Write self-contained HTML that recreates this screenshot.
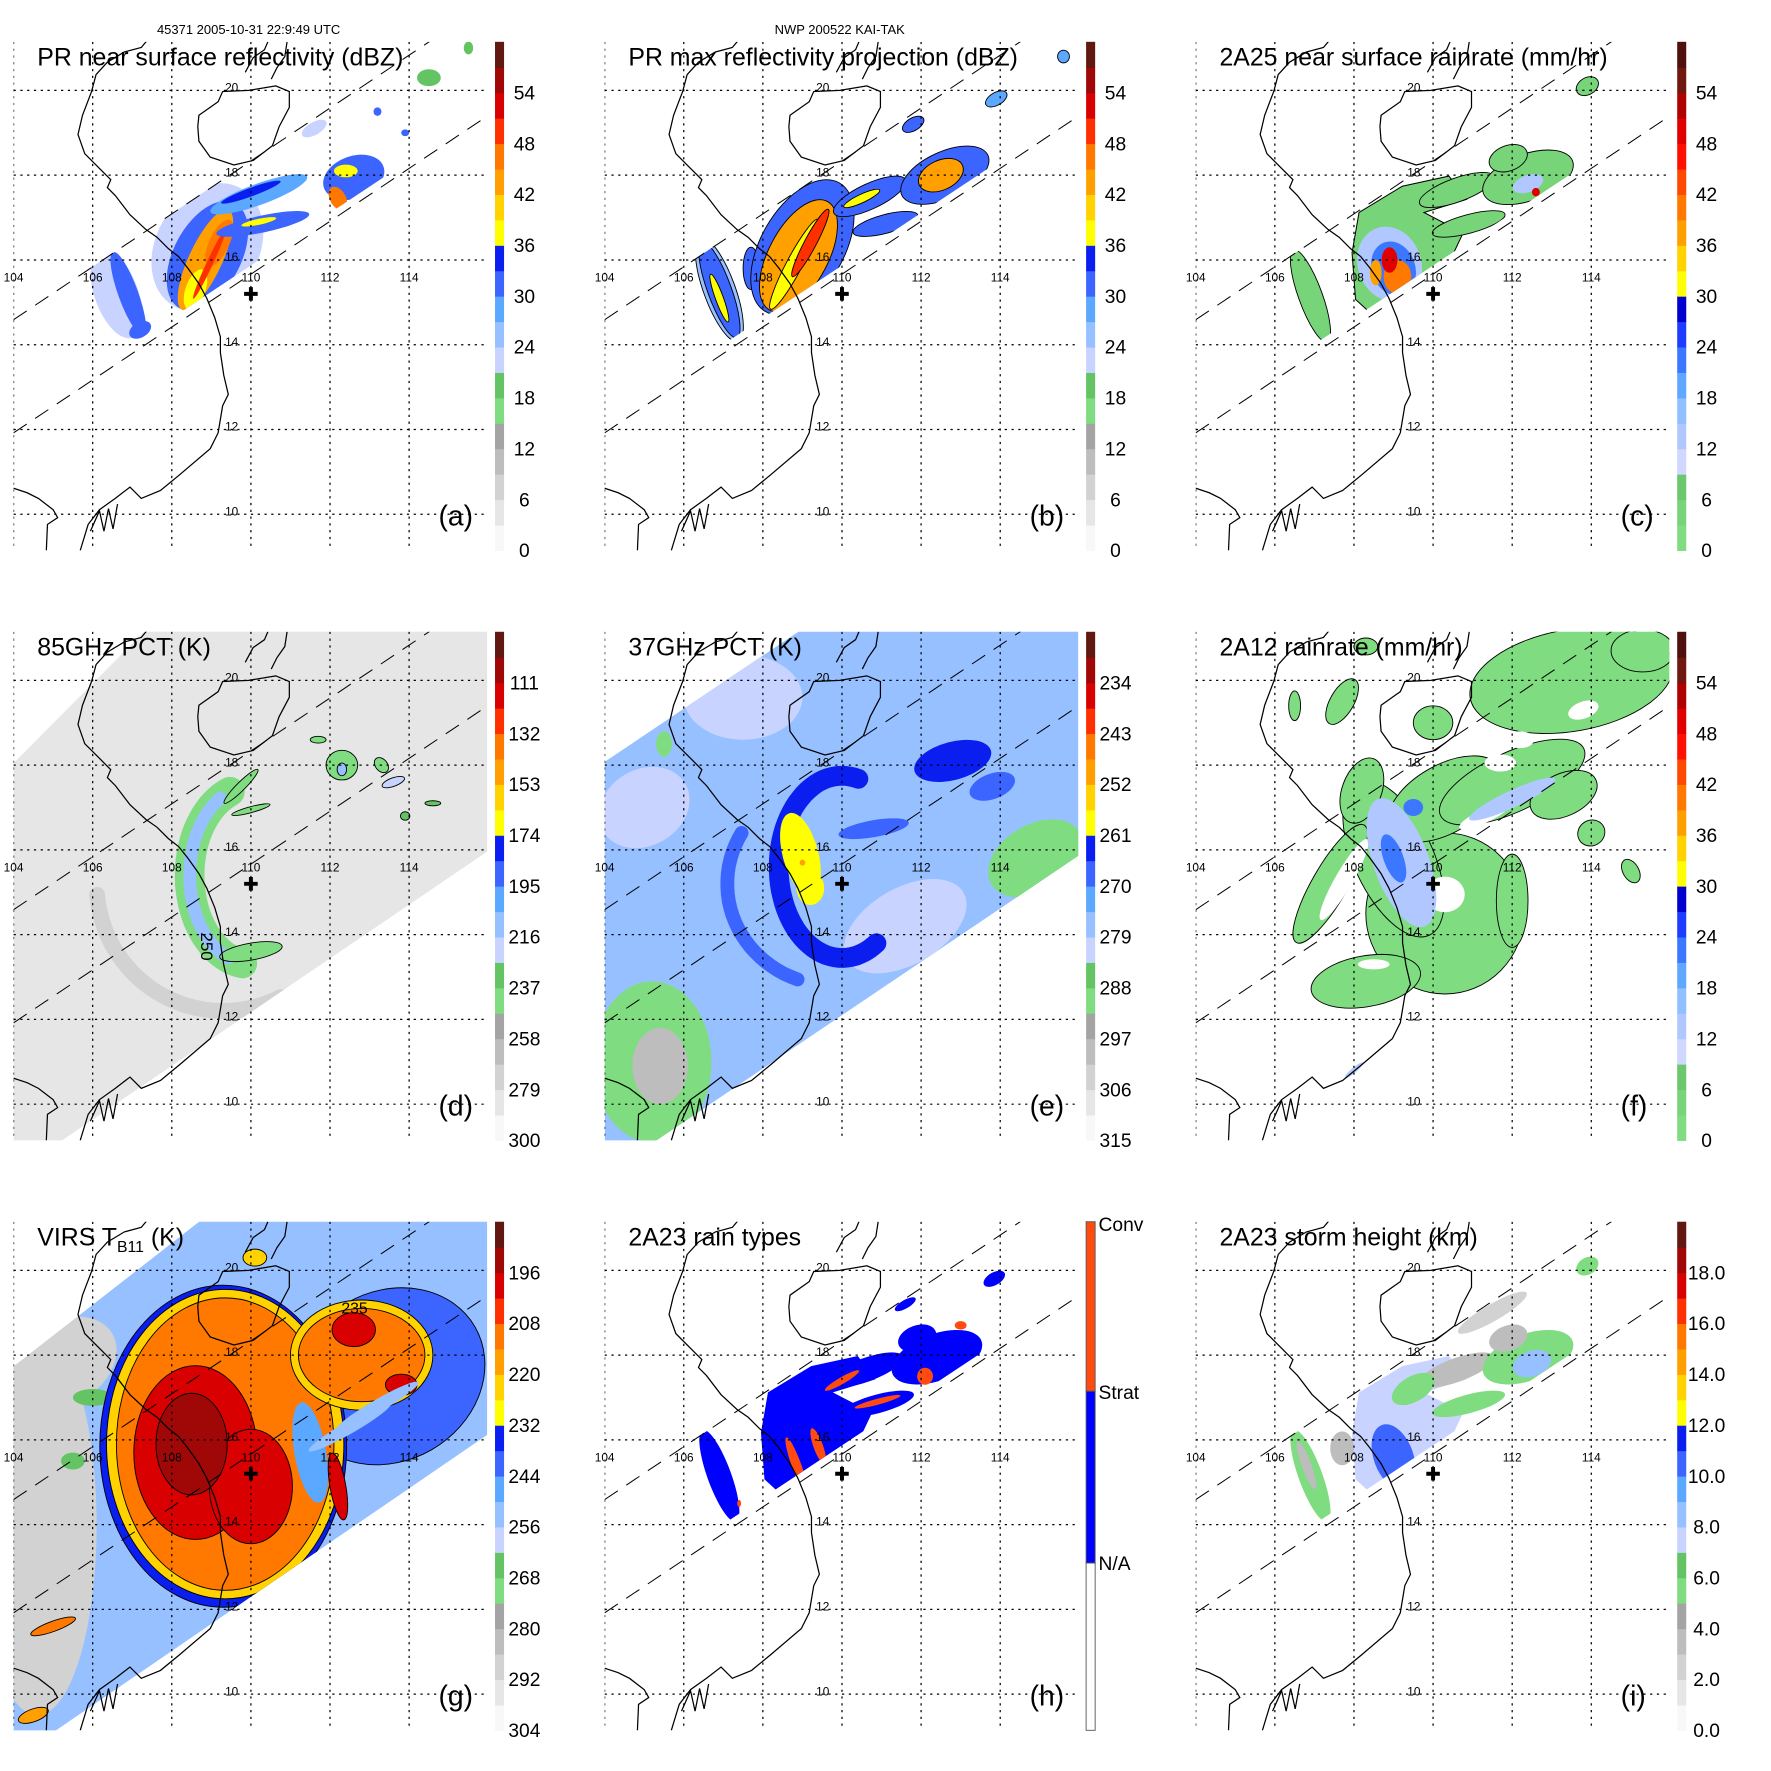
<!DOCTYPE html>
<html><head><meta charset="utf-8">
<style>html,body{margin:0;padding:0;background:#fff}svg{display:block}</style>
</head><body>
<svg id="fig" xmlns="http://www.w3.org/2000/svg" width="1771" height="1771" viewBox="0 0 1567 1567" font-family="'Liberation Sans', sans-serif">
<rect x="0" y="0" width="1567" height="1567" fill="#fff"/>
<text x="220" y="30" font-size="11.5" text-anchor="middle">45371 2005-10-31 22:9:49 UTC</text>
<text x="743" y="30" font-size="11.5" text-anchor="middle">NWP 200522 KAI-TAK</text>
</svg>
<script>
// ---------- colour scales ----------
const cmapA=['#f8f8f8','#e6e6e6','#d2d2d2','#bdbdbd','#a4a4a4','#80dc80','#64c464','#c8d4ff','#96c0ff','#5aa8ff','#3c64ff','#0a1ef0','#ffff00','#ffd200','#ffa000','#ff7800','#ff3000','#d80000','#a00808','#601810'];
const cmapB=['#80dc80','#78d478','#6cc86c','#d0d8ff','#b0c8ff','#90c0ff','#60a8ff','#3c78ff','#1e3cff','#0000d0','#ffff00','#ffd200','#ffa000','#ff7800','#ff4800','#ff1000','#e00000','#b00000','#701810','#501010'];
const cmapH=['#ffffff','#0000ff','#ff4a10'];
// ---------- tick values ----------
const ticksDBZ=[0,6,12,18,24,30,36,42,48,54];
const ticksRain=[0,6,12,18,24,30,36,42,48,54];
const ticks85=[300,279,258,237,216,195,174,153,132,111];
const ticks37=[315,306,297,288,279,270,261,252,243,234];
const ticksVirs=[304,292,280,268,256,244,232,220,208,196];
const ticksHgt=[0,2,4,6,8,10,12,14,16,18];
const catLabels=['N/A','Strat','Conv'];
const lonTicks=[104,106,108,110,112,114];
const latTicks=[20,18,16,14,12,10];
const stormCenter=[110.0,15.2];
// ---------- swath polygons (lon,lat) ----------
const swathD=[[104,18.05],[107.46,21.3],[116.2,21.3],[116.2,16.1],[105.0,9.0],[104,9.0]];
const swathE=[[104,18.08],[109.14,21.3],[116.2,21.3],[116.2,16.0],[105.08,9.0],[104,9.0]];
const swathG=[[104,17.73],[108.9,21.3],[116.2,21.3],[116.2,16.26],[104.85,9.0],[104,9.0]];
const prClip=[[104,14.59],[116,22.1],[116,19.59],[104,12.15]];
const prMain=[[107.95,16.17],[108.13,17.12],[109.22,17.74],[110.4,17.98],[110.85,17.43],[109.77,17.12],[110.76,16.64],[110.49,16.1],[108.4,14.76],[108.04,15.07]];
// ---------- blob data [lon,lat,rxDeg,ryDeg,rot,value] ----------
const blobsA=[[106.6,15.2,0.55,1.1,-20,22],[106.9,15.2,0.25,1.05,-20,31],[107.2,14.35,0.3,0.18,-30,32],[108.9,16.3,1.3,1.6,30,23],[108.9,16.1,0.85,1.4,28,31],[108.85,16.0,0.42,1.3,25,44],[108.6,15.3,0.25,0.5,20,38],[109.2,16.4,0.25,0.6,25,46],[108.95,15.9,0.08,0.9,25,50],[110.3,16.85,1.2,0.2,-12,31],[110.2,16.9,0.45,0.07,-12,38],[110.2,17.55,1.3,0.25,-20,27],[110.0,17.6,0.8,0.1,-20,33],[112.6,17.95,0.8,0.5,-20,32],[112.4,18.1,0.3,0.15,0,38],[112.2,17.45,0.2,0.3,-30,46],[111.6,19.1,0.35,0.15,-30,22],[114.5,20.3,0.3,0.2,0,18],[115.5,21,0.12,0.15,0,18],[113.2,19.5,0.1,0.1,0,30],[113.9,19.0,0.1,0.08,0,30]];
const blobsB=[[106.9,15.3,0.4,1.3,-20,26],[106.9,15.3,0.3,1.2,-20,31],[106.9,15.1,0.1,0.6,-20,37],[107.7,15.8,0.2,0.5,0,30],[109.0,16.3,1.05,1.75,30,31],[108.9,16.1,0.75,1.45,28,44],[108.8,15.9,0.2,1.2,28,37],[109.2,16.4,0.15,0.9,28,48],[110.7,17.5,1.0,0.3,-25,31],[110.5,17.45,0.5,0.1,-25,38],[111.1,16.85,0.85,0.22,-15,31],[112.6,18.0,1.2,0.55,-25,31],[112.5,18.0,0.6,0.35,-25,42],[113.9,19.8,0.3,0.15,-30,28],[111.8,19.2,0.3,0.15,-30,30],[115.6,20.8,0.15,0.15,0,28]];
const blobsC=[[106.9,15.15,0.3,1.15,-20,3],[110.6,17.65,1.0,0.28,-20,3],[110.9,16.85,0.95,0.22,-15,3],[112.4,17.95,1.2,0.55,-20,3],[111.9,18.4,0.5,0.3,-20,3],[113.9,20.1,0.3,0.2,-30,3],[108.9,15.9,0.8,0.9,-20,12],[109.0,15.8,0.55,0.65,-20,22],[109.1,15.6,0.35,0.4,0,40],[108.9,16.0,0.2,0.3,0,50],[108.55,15.7,0.15,0.3,0,36],[112.4,17.8,0.4,0.2,-20,12],[112.6,17.6,0.1,0.1,0,48]];
const bgD=[[112.5,19.3,1.5,0.8,-20,281]];
const blobsD=[[110.0,13.6,0.8,0.2,-10,240],[109.75,17.5,0.6,0.1,-45,240],[110.0,16.95,0.5,0.07,-15,240],[112.3,18.0,0.4,0.35,0,240],[112.3,17.9,0.12,0.15,0,215],[113.6,17.6,0.3,0.1,-20,220],[113.3,18.0,0.15,0.2,-40,240],[111.7,18.6,0.2,0.08,0,240],[113.9,16.8,0.12,0.1,0,230],[114.6,17.1,0.2,0.06,0,230]];
const arcsD=[[109.3,15.2,3.2,3.0,185,300,0.4,279],[110.0,15.4,1.55,2.1,110,262,0.75,240],[110.0,15.4,1.55,2.1,120,250,0.32,215]];
const bgE=[[105.0,17.0,1.2,0.9,-30,282],[107.5,19.6,1.5,1.0,0,282],[111.6,14.2,1.7,0.9,-30,282],[113.2,16.8,2.0,1.2,0,279]];
const blobsE=[[110.8,16.5,0.9,0.2,-10,268],[112.8,18.1,1.0,0.45,-15,264],[113.8,17.5,0.6,0.3,-20,266],[105.2,11.0,1.5,1.9,0,290],[105.4,10.9,0.7,0.9,0,300],[114.9,15.8,1.3,0.8,-30,290],[105.5,18.5,0.2,0.3,0,290],[108.95,15.9,0.45,1.0,-15,257],[109.2,15.1,0.35,0.4,0,258],[109.0,15.7,0.07,0.07,0,250]];
const arcsE=[[110.0,15.6,1.6,2.15,75,305,0.5,264],[109.8,15.2,2.7,2.4,150,250,0.35,270]];
const blobsF=[[110.3,14.5,2.0,1.9,0,2],[109.0,15.8,1.0,2.0,-25,2],[110.3,17.2,1.6,0.8,-30,2],[112.0,17.6,2.0,0.7,-25,2],[113.3,17.3,0.9,0.5,-25,2],[113.5,20.0,2.6,1.2,-10,2],[115.3,20.7,0.8,0.5,0,2],[107.4,15.2,0.45,1.6,30,2],[108.3,12.9,1.4,0.6,-10,2],[112.0,14.8,0.4,1.1,0,2],[108.2,17.4,0.5,0.8,20,2],[107.7,19.5,0.3,0.6,30,2],[110.0,19.0,0.5,0.4,0,2],[106.5,19.4,0.15,0.35,0,2],[114.0,16.4,0.35,0.3,-30,2],[115.0,15.5,0.2,0.3,-30,2],[108.3,20.8,0.3,0.2,0,2],[110.3,14.95,0.5,0.42,0,-1],[107.75,15.3,0.22,1.1,30,-1],[112.2,18.6,0.35,0.2,0,-1],[111.7,18.05,0.4,0.2,0,-1],[111.3,16.8,0.7,0.16,-25,-1],[108.5,13.3,0.4,0.12,0,-1],[113.8,19.3,0.4,0.2,-20,-1],[109.2,15.7,0.7,1.6,-20,12],[112.0,17.2,1.2,0.2,-25,12],[109.0,15.8,0.25,0.6,-20,22],[109.5,17.0,0.25,0.2,0,22],[108.0,10.8,0.3,0.06,-40,12]];
const blobsG=[[104.6,14.0,1.5,4.5,0,292],[105.2,17.8,1.5,1.0,-30,288],[106.0,17.0,0.5,0.2,0,268],[105.5,15.5,0.3,0.2,0,268],[113.5,17.5,2.5,2.0,-30,240],[109.3,15.85,3.12,3.8,0,238],[109.35,15.9,3.0,3.65,0,226],[109.35,15.9,2.75,3.45,0,214],[112.8,18.0,1.8,1.3,0,226],[112.8,18.0,1.6,1.1,0,214],[112.6,18.6,0.55,0.4,0,199],[113.8,17.3,0.4,0.25,0,199],[108.6,15.7,1.56,2.05,0,199],[110.0,14.9,1.05,1.35,0,199],[108.5,15.9,0.9,1.2,0,193],[111.5,15.7,0.4,1.2,-10,245],[112.2,14.9,0.2,0.8,-10,200],[112.5,16.3,1.2,0.15,-30,256],[113.2,16.8,1.2,0.15,-30,256],[110.1,20.3,0.3,0.2,0,226],[105,11.6,0.6,0.12,-20,214],[104.5,9.5,0.4,0.15,-20,220]];
const blobsH=[[106.9,15.15,0.3,1.15,-20,1],[110.6,17.65,1.0,0.28,-20,1],[110.9,16.85,0.95,0.22,-15,1],[112.4,17.95,1.2,0.55,-20,1],[111.9,18.4,0.5,0.3,-20,1],[111.6,19.2,0.3,0.1,-30,1],[113.85,19.8,0.3,0.15,-30,1],[108.85,15.4,0.12,0.7,-20,2],[109.4,15.85,0.12,0.45,-20,2],[109.2,15.0,0.15,0.3,0,2],[110.9,16.9,0.6,0.07,-15,2],[110.0,17.4,0.5,0.08,-30,2],[112.1,17.5,0.2,0.2,0,2],[113.0,18.7,0.15,0.1,0,2],[107.4,14.5,0.05,0.08,0,2]];
const blobsI=[[106.9,15.15,0.3,1.15,-20,5.5],[106.8,15.4,0.12,0.6,-20,3],[107.7,15.8,0.3,0.4,0,3],[110.6,17.65,1.0,0.28,-20,3],[110.9,16.85,0.95,0.22,-15,5.5],[112.4,17.95,1.2,0.55,-20,5.5],[112.5,17.8,0.5,0.3,-20,8.5],[111.9,18.4,0.5,0.3,-20,3],[109.5,17.2,0.6,0.3,-30,5.5],[109.0,15.6,0.5,0.8,-20,10.5],[111.5,19.0,1.0,0.2,-30,2],[113.9,20.1,0.3,0.2,-30,5.5]];

const NS='http://www.w3.org/2000/svg';
const fig=document.getElementById('fig');
function mk(tag,parent){const e=document.createElementNS(NS,tag);parent.appendChild(e);return e;}
function X(lon){return 12+(lon-104)*35;}
function Y(lat){return 230-(lat-16)*37.5;}
function colorOf(v,sc){
  if(v<0) return '#ffffff';
  if(sc.cat) return sc.cmap[v];
  let f=(v-sc.lo)/(sc.hi-sc.lo); let b=Math.floor(f*20); if(b<0)b=0; if(b>19)b=19;
  return sc.cmap[b];
}
function polyPts(p){return p.map(q=>X(q[0]).toFixed(1)+','+Y(q[1]).toFixed(1)).join(' ');}

const coastMain="M130,36 L125,42 L110,46 L95,55 L85,66 L81,81 L73,102 L69,119 L75,136 L88,149 L98,159 L95,166 L102,173 L115,190 L129,203 L139,210 L149,220 L158,227 L166,237 L176,251 L183,264 L190,281 L195,298 L195,312 L198,332 L202,349 L197,359 L193,383 L186,397 L159,420 L142,434 L125,441 L115,431 L102,441 L88,451 L78,464 L71,487";
const coastHainan="M176,102 L193,90 L197,81 L220,80 L244,76 L256,81 L256,95 L247,112 L241,129 L224,142 L207,146 L186,139 L176,125 L175,112 Z";
const coastOther="M217,64 L224,51 L234,44 L237,37 M254,37 L252,50 L245,60 L240,70 M12,432 L24,436 L34,441 L47,451 L51,458 L42,464 L41,487 M80,470 L88,452 L92,470 L96,450 L100,468 L104,446";

const panels=[
 {id:'a',off:[0,0],title:'PR near surface reflectivity (dBZ)',sc:{lo:0,hi:60,cmap:cmapA},ticks:ticksDBZ,fmt:v=>String(v),blobs:blobsA,clip:prClip,outline:null},
 {id:'b',off:[523,0],title:'PR max reflectivity projection (dBZ)',sc:{lo:0,hi:60,cmap:cmapA},ticks:ticksDBZ,fmt:v=>String(v),blobs:blobsB,clip:prClip,outline:v=>true},
 {id:'c',off:[1046,0],title:'2A25 near surface rainrate (mm/hr)',sc:{lo:0,hi:60,cmap:cmapB},ticks:ticksRain,fmt:v=>String(v),base:prMain,baseVal:3,blobs:blobsC,clip:prClip,outline:v=>v<10},
 {id:'d',off:[0,522],title:'85GHz PCT (K)',sc:{lo:300,hi:90,cmap:cmapA},ticks:ticks85,fmt:v=>String(v),base:swathD,baseVal:286,bg:bgD,blobs:blobsD,arcs:arcsD,outline:v=>v<=250,bodyClip:swathD},
 {id:'e',off:[523,522],title:'37GHz PCT (K)',sc:{lo:315,hi:225,cmap:cmapA},ticks:ticks37,fmt:v=>String(v),base:swathE,baseVal:277,bg:bgE,blobs:blobsE,arcs:arcsE,outline:null,bodyClip:swathE},
 {id:'f',off:[1046,522],title:'2A12 rainrate (mm/hr)',sc:{lo:0,hi:60,cmap:cmapB},ticks:ticksRain,fmt:v=>String(v),blobs:blobsF,outline:v=>v<5},
 {id:'g',off:[0,1044],title:'VIRS',sc:{lo:304,hi:184,cmap:cmapA},ticks:ticksVirs,fmt:v=>String(v),base:swathG,baseVal:252,blobs:blobsG,outline:v=>v<=240,bodyClip:swathG},
 {id:'h',off:[523,1044],title:'2A23 rain types',sc:{cat:true,cmap:cmapH},base:prMain,baseVal:1,blobs:blobsH,clip:prClip,outline:null},
 {id:'i',off:[1046,1044],title:'2A23 storm height (km)',sc:{lo:0,hi:20,cmap:cmapA},ticks:ticksHgt,fmt:v=>v.toFixed(1),base:prMain,baseVal:7.5,blobs:blobsI,clip:prClip,outline:null}
];

const defs=mk('defs',fig);
panels.forEach(p=>{
  const cp=mk('clipPath',defs); cp.setAttribute('id','map-'+p.id);
  const r=mk('rect',cp); r.setAttribute('x',12); r.setAttribute('y',37); r.setAttribute('width',419); r.setAttribute('height',450);
  const cl=p.bodyClip||p.clip;
  if(cl){const c2=mk('clipPath',defs); c2.setAttribute('id','data-'+p.id); const pg=mk('polygon',c2); pg.setAttribute('points',polyPts(cl));}
});

function drawBlob(parent,b,p){
  const e=mk('ellipse',parent); const cx=X(b[0]),cy=Y(b[1]);
  e.setAttribute('cx',cx); e.setAttribute('cy',cy); e.setAttribute('rx',b[2]*35); e.setAttribute('ry',b[3]*37.5);
  e.setAttribute('transform','rotate('+b[4]+' '+cx+' '+cy+')');
  e.setAttribute('fill',colorOf(b[5],p.sc));
  if(p.outline && b[5]>=0 && p.outline(b[5])){e.setAttribute('stroke','#000');e.setAttribute('stroke-width','0.8');}
  
  
}

panels.forEach(p=>{
  const g=mk('g',fig);
  g.setAttribute('transform','translate('+p.off[0]+','+p.off[1]+')');
  
  
  const map=mk('g',g); map.setAttribute('clip-path','url(#map-'+p.id+')');
  
  
  const data=mk('g',map);
  if(p.bodyClip||p.clip) data.setAttribute('clip-path','url(#data-'+p.id+')');
  
  
  if(p.base){
    const pg=mk('polygon',data); pg.setAttribute('points',polyPts(p.base)); pg.setAttribute('fill',colorOf(p.baseVal,p.sc));
    if(p.outline && !p.bodyClip && p.outline(p.baseVal)){pg.setAttribute('stroke','#000');pg.setAttribute('stroke-width','0.9');}
    
    
  }
  (p.bg||[]).forEach(b=>drawBlob(data,b,p));
  (p.arcs||[]).forEach(a=>{
    let d='';
    for(let t=a[4];t<=a[5];t+=4){const rad=t*Math.PI/180;const x=X(a[0]+a[2]*Math.cos(rad)),y=Y(a[1]+a[3]*Math.sin(rad));d+=(d?'L':'M')+x.toFixed(1)+','+y.toFixed(1);}
    const e=mk('path',data); e.setAttribute('d',d); e.setAttribute('fill','none'); e.setAttribute('stroke',colorOf(a[7],p.sc)); e.setAttribute('stroke-width',a[6]*35); e.setAttribute('stroke-linecap','round');
    
    
  });
  p.blobs.forEach(b=>drawBlob(data,b,p));
  [coastMain,coastHainan,coastOther].forEach(s=>{
    const c=mk('path',map); c.setAttribute('d',s); c.setAttribute('fill','none'); c.setAttribute('stroke','#000'); c.setAttribute('stroke-width','1.1');
    
    
  });
  lonTicks.forEach(lon=>{
    const l=mk('line',map); l.setAttribute('x1',X(lon)); l.setAttribute('x2',X(lon)); l.setAttribute('y1',37); l.setAttribute('y2',487);
    l.setAttribute('stroke','#000'); l.setAttribute('stroke-width','1.1'); l.setAttribute('stroke-dasharray','2 4');
    
    
    const t=mk('text',g); t.setAttribute('x',X(lon)); t.setAttribute('y',249); t.setAttribute('font-size','10.5'); t.setAttribute('text-anchor','middle'); t.textContent=String(lon);
    
    
  });
  latTicks.forEach(lat=>{
    const l=mk('line',map); l.setAttribute('x1',12); l.setAttribute('x2',431); l.setAttribute('y1',Y(lat)); l.setAttribute('y2',Y(lat));
    l.setAttribute('stroke','#000'); l.setAttribute('stroke-width','1.1'); l.setAttribute('stroke-dasharray','2 4');
    
    
    const t=mk('text',g); t.setAttribute('x',205); t.setAttribute('y',Y(lat)+1); t.setAttribute('font-size','10.5'); t.setAttribute('text-anchor','middle'); t.textContent=String(lat);
    
    
  });
  [[[104,14.59],[114.51,21.15]],[[104,11.92],[115.97,19.39]]].forEach(s=>{
    const l=mk('line',map); l.setAttribute('x1',X(s[0][0])); l.setAttribute('y1',Y(s[0][1])); l.setAttribute('x2',X(s[1][0])); l.setAttribute('y2',Y(s[1][1]));
    l.setAttribute('stroke','#000'); l.setAttribute('stroke-width','0.9'); l.setAttribute('stroke-dasharray','14 9');
    
    
  });
  const cx=X(stormCenter[0]),cy=Y(stormCenter[1]);
  const cr=mk('path',g); cr.setAttribute('d','M'+(cx-6)+','+cy+' L'+(cx+6)+','+cy+' M'+cx+','+(cy-6)+' L'+cx+','+(cy+6)); cr.setAttribute('stroke','#000'); cr.setAttribute('stroke-width','3.5');
  
  
  const tt=mk('text',g); tt.setAttribute('x',33); tt.setAttribute('y',58); tt.setAttribute('font-size','22');
  if(p.id==='g'){
    tt.textContent='VIRS T';
    const s=mk('tspan',tt); s.setAttribute('font-size','14'); s.setAttribute('dy','6'); s.textContent='B11';
    const s2=mk('tspan',tt); s2.setAttribute('dy','-6'); s2.textContent=' (K)';
  } else tt.textContent=p.title;
  
  
  const lb=mk('text',g); lb.setAttribute('x',388); lb.setAttribute('y',465); lb.setAttribute('font-size','25'); lb.textContent='('+p.id+')';
  
  
  const cb=mk('g',g);
  
  
  if(p.sc.cat){
    [[37,150,2],[187,152,1],[339,148,0]].forEach(s=>{
      const r=mk('rect',cb); r.setAttribute('x',438); r.setAttribute('y',s[0]); r.setAttribute('width',8); r.setAttribute('height',s[1]); r.setAttribute('fill',cmapH[s[2]]);
      r.setAttribute('stroke','#555'); r.setAttribute('stroke-width','0.8');
      
      
    });
    [[45,2],[194,1],[345,0]].forEach(q=>{
      const t=mk('text',cb); t.setAttribute('x',449); t.setAttribute('y',q[0]); t.setAttribute('font-size','17'); t.textContent=catLabels[q[1]];
      
      
    });
  } else {
    for(let i=0;i<20;i++){
      const r=mk('rect',cb); r.setAttribute('x',438); r.setAttribute('y',487-(i+1)*22.5); r.setAttribute('width',8); r.setAttribute('height',23); r.setAttribute('fill',p.sc.cmap[i]);
      
      
    }
    p.ticks.forEach(v=>{
      const y=487-(v-p.sc.lo)/(p.sc.hi-p.sc.lo)*450;
      const t=mk('text',cb); t.setAttribute('x',464); t.setAttribute('y',y+6); t.setAttribute('font-size','17'); t.setAttribute('text-anchor','middle'); t.textContent=p.fmt(v);
      
      
    });
  }
});
const c1=document.createElementNS(NS,'text'); fig.appendChild(c1);
c1.setAttribute('x',178); c1.setAttribute('y',825); c1.setAttribute('font-size','15'); c1.setAttribute('transform','rotate(90 178 825)'); c1.textContent='250';


const c2=document.createElementNS(NS,'text'); fig.appendChild(c2);
c2.setAttribute('x',302); c2.setAttribute('y',1162); c2.setAttribute('font-size','14'); c2.textContent='235';


</script>
</body></html>
